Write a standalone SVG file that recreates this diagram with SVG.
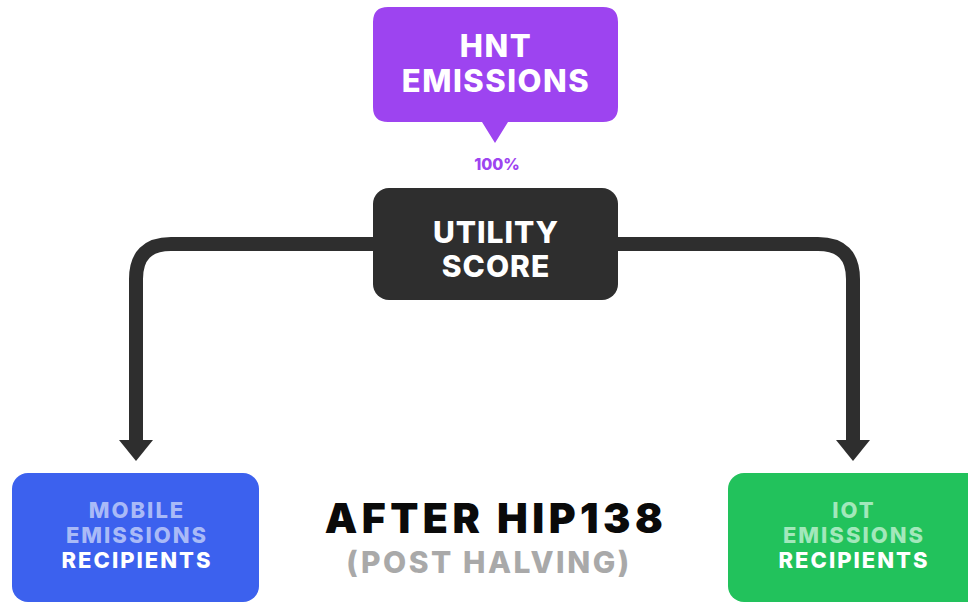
<svg xmlns="http://www.w3.org/2000/svg" width="968" height="603" viewBox="0 0 968 603">
<defs>
<style>
text{font-family:Inter,"Open Sans","Liberation Sans",sans-serif;font-weight:800;text-anchor:middle}
.big{font-size:31px;fill:#fff;letter-spacing:1.5px}
.util{font-size:30px;fill:#fff;letter-spacing:1px}
.box{font-size:22px;letter-spacing:2px}
.conn{fill:none;stroke:#2e2e2e;stroke-width:14}
.head{fill:#2e2e2e}
</style>
</defs>
<rect width="968" height="603" fill="#fff"/>
<g id="connectors">
<path class="conn" d="M380,244 H171 Q136,244 136,279 V441"/>
<path class="conn" d="M610,244 H818 Q853,244 853,279 V441"/>
<path class="head" d="M119,440 L153,440 L136,461 Z"/>
<path class="head" d="M836,440 L870,440 L853,461 Z"/>
</g>
<g id="hnt">
<path d="M388,7 H603 Q618,7 618,22 V107 Q618,122 603,122 H508 L495,143 L482,122 H388 Q373,122 373,107 V22 Q373,7 388,7 Z" fill="#9d44f0"/>
<text class="big" x="496" y="57">HNT</text>
<text class="big" x="496" y="92">EMISSIONS</text>
<text x="497" y="170" font-size="16" fill="#9d44f0">100%</text>
</g>
<g id="utility">
<rect x="373" y="188" width="245" height="112" rx="16" fill="#2e2e2e"/>
<text class="util" x="496" y="243">UTILITY</text>
<text class="util" x="496" y="277">SCORE</text>
</g>
<g id="mobile">
<rect x="12" y="473" width="247" height="129" rx="16" fill="#3c61ee"/>
<text class="box" x="137" y="518" fill="#a9baf7">MOBILE</text>
<text class="box" x="137" y="543" fill="#a9baf7">EMISSIONS</text>
<text class="box" x="137" y="568" fill="#fff">RECIPIENTS</text>
</g>
<g id="iot">
<rect x="728" y="473" width="256" height="129" rx="16" fill="#22c25c"/>
<text class="box" x="854" y="518" fill="#a2e8bb">IOT</text>
<text class="box" x="854" y="543" fill="#a2e8bb">EMISSIONS</text>
<text class="box" x="854" y="568" fill="#fff">RECIPIENTS</text>
</g>
<g id="title">
<text x="496" y="533" style="font-size:41px;font-weight:900;letter-spacing:4.5px" fill="#0a0a0a">AFTER HIP138</text>
<text x="489" y="573" style="font-size:30px;letter-spacing:2.5px" fill="#a9a9a9">(POST HALVING)</text>
</g>
</svg>
